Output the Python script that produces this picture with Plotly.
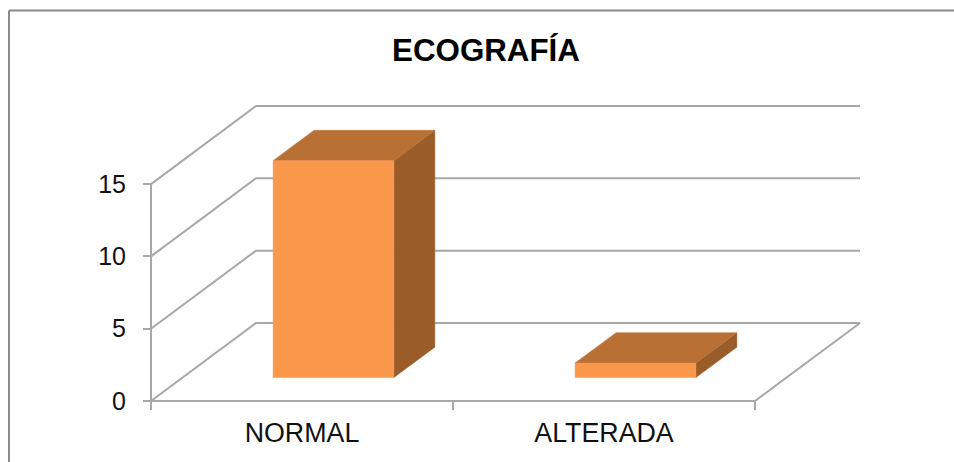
import plotly.graph_objects as go

# Chart data
categories = ["NORMAL", "ALTERADA"]
values = [15, 1]
y_ticks = [0, 5, 10, 15]
title_text = "ECOGRAFÍA"

# Oblique projection: a point at depth d (0 = front, 1 = back wall) is shifted
# right and up, in axis units.
X_SCALE, Y_SCALE = 302, 14.45
DEPTH_X = 105 / X_SCALE
DEPTH_Y = 78 / Y_SCALE
BAR_START, BAR_WIDTH = 0.30, 0.40
BAR_D0, BAR_D1 = 0.30, 0.69

FRONT, TOP, SIDE = "#F9974A", "#B97035", "#9A5D2A"
GRID, FRAME = "#A8A8A8", "#8A8A8A"

W, H = 954, 462
AXIS_LEFT, AXIS_BOTTOM = 151, 400.8
PAD = 6  # room around the axes so their lines are not clipped
L, R, T, B = AXIS_LEFT - PAD, 0, 90, H - AXIS_BOTTOM - PAD
plot_w = W - L - R
plot_h = H - T - B
X_RANGE = [-PAD / X_SCALE, (plot_w - PAD) / X_SCALE]
Y_RANGE = [-PAD / Y_SCALE, (plot_h - PAD) / Y_SCALE]


def project(x, v, d):
    return x + d * DEPTH_X, v + d * DEPTH_Y


def polyline(points, **kw):
    xs, ys = zip(*[project(*p) for p in points])
    return go.Scatter(x=xs, y=ys, hoverinfo="skip", showlegend=False, **kw)


fig = go.Figure()
grid_line = dict(mode="lines", line=dict(color=GRID, width=2))

# Wall gridlines, running from the front axis back and across
n = len(categories)
for t in y_ticks:
    fig.add_trace(polyline([(0, t, 0), (0, t, 1), (n, t, 1)], **grid_line))

# Floor edges and value axis
fig.add_trace(polyline([(0, 0, 0), (n, 0, 0), (n, 0, 1)], **grid_line))
fig.add_trace(polyline([(0, 0, 0), (0, y_ticks[-1], 0)], **grid_line))

# Bars: side, top and front faces
for i, v in enumerate(values):
    x0 = i + BAR_START
    x1 = x0 + BAR_WIDTH
    faces = [
        (SIDE, [(x1, 0, BAR_D0), (x1, 0, BAR_D1), (x1, v, BAR_D1), (x1, v, BAR_D0)]),
        (TOP, [(x0, v, BAR_D0), (x0, v, BAR_D1), (x1, v, BAR_D1), (x1, v, BAR_D0)]),
        (FRONT, [(x0, 0, BAR_D0), (x1, 0, BAR_D0), (x1, v, BAR_D0), (x0, v, BAR_D0)]),
    ]
    for color, pts in faces:
        fig.add_trace(polyline(pts + pts[:1], mode="lines", fill="toself",
                               fillcolor=color, line=dict(color=color, width=0.5)))


def frame_x(px):
    return (px - L) / plot_w


def frame_y(py):
    return (H - B - py) / plot_h


frame = dict(type="line", xref="paper", yref="paper", line=dict(color=FRAME, width=2))

fig.update_layout(
    width=W, height=H,
    margin=dict(l=L, r=R, t=T, b=B, autoexpand=False),
    paper_bgcolor="white", plot_bgcolor="white",
    font=dict(family="Liberation Sans, Arial, sans-serif", color="#000000"),
    title=dict(text=f"<b>{title_text}</b>", font=dict(size=31.3, color="#000000"),
               x=486 / W, xanchor="center", y=1 - 50 / H, yanchor="middle"),
    shapes=[
        dict(frame, x0=frame_x(9), x1=frame_x(W), y0=frame_y(10.5), y1=frame_y(10.5)),
        dict(frame, x0=frame_x(9), x1=frame_x(9), y0=frame_y(10.5), y1=frame_y(H)),
    ],
    xaxis=dict(
        range=X_RANGE, showgrid=False, zeroline=False, showline=False,
        anchor="free", position=PAD / plot_h,
        tickmode="array", tickvals=[i + 0.5 for i in range(n)], ticktext=categories,
        ticks="outside", ticklen=8, tickcolor="rgba(0,0,0,0)",
        tickfont=dict(size=26.8, color="#111111"),
        minor=dict(tickmode="array", tickvals=list(range(n + 1)), ticks="outside",
                   ticklen=8, tickwidth=2, tickcolor=GRID, showgrid=False),
    ),
    yaxis=dict(
        range=Y_RANGE, showgrid=False, zeroline=False, showline=False,
        anchor="free", position=PAD / plot_w,
        tickmode="array", tickvals=y_ticks,
        ticks="outside", ticklen=20, tickcolor="rgba(0,0,0,0)",
        tickfont=dict(size=25, color="#111111"),
        minor=dict(tickmode="array", tickvals=y_ticks, ticks="outside",
                   ticklen=8, tickwidth=2, tickcolor=GRID, showgrid=False),
    ),
)

fig.write_html("out.html")
